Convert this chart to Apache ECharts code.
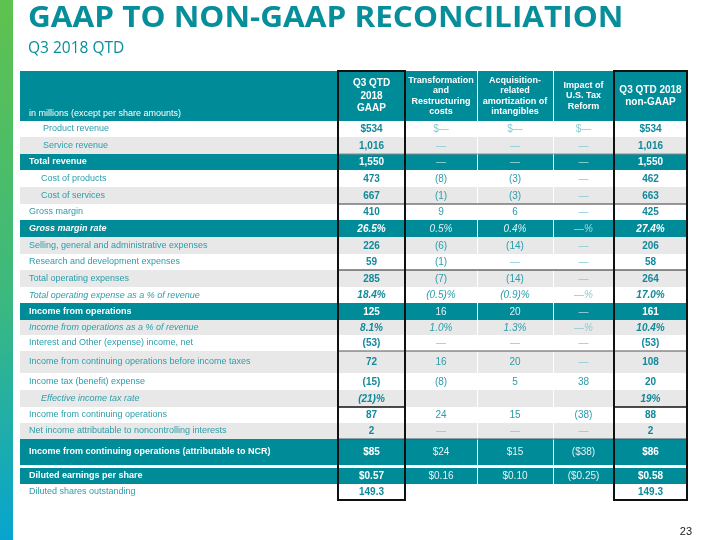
<!DOCTYPE html>
<html>
<head>
<meta charset="utf-8">
<script src="https://cdn.jsdelivr.net/npm/echarts@6/dist/echarts.min.js"></script>
<style>html,body{margin:0;padding:0;background:#fff}#chart{width:720px;height:540px}</style>
</head>
<body>
<div id="chart"></div>
<script>
// ---------------- data ----------------
const titleText = 'GAAP TO NON-GAAP RECONCILIATION';
const subtitleText = 'Q3 2018 QTD';
const pageNumber = '23';
const columnHeaders = [
  'in millions (except per share amounts)',
  'Q3 QTD\n2018\nGAAP',
  'Transformation\nand\nRestructuring\ncosts',
  'Acquisition-\nrelated\namortization of\nintangibles',
  'Impact of\nU.S. Tax\nReform',
  'Q3 QTD 2018\nnon-GAAP'
];
const rowLabels = [
  'Product revenue',
  'Service revenue',
  'Total revenue',
  'Cost of products',
  'Cost of services',
  'Gross margin',
  'Gross margin rate',
  'Selling, general and administrative expenses',
  'Research and development expenses',
  'Total operating expenses',
  'Total operating expense as a % of revenue',
  'Income from operations',
  'Income from operations as a % of revenue',
  'Interest and Other (expense) income, net',
  'Income from continuing operations before income taxes',
  'Income tax (benefit) expense',
  'Effective income tax rate',
  'Income from continuing operations',
  'Net income attributable to noncontrolling interests',
  'Income from continuing operations (attributable to NCR)',
  'Diluted earnings per share',
  'Diluted shares outstanding'
];
const gaapValues = ['$534','1,016','1,550','473','667','410','26.5%','226','59','285','18.4%','125','8.1%','(53)','72','(15)','(21)%','87','2','$85','$0.57','149.3'];
const transformationValues = ['$\u2014','\u2014','\u2014','(8)','(1)','9','0.5%','(6)','(1)','(7)','(0.5)%','16','1.0%','\u2014','16','(8)','','24','\u2014','$24','$0.16',''];
const acquisitionValues = ['$\u2014','\u2014','\u2014','(3)','(3)','6','0.4%','(14)','\u2014','(14)','(0.9)%','20','1.3%','\u2014','20','5','','15','\u2014','$15','$0.10',''];
const taxReformValues = ['$\u2014','\u2014','\u2014','\u2014','\u2014','\u2014','\u2014%','\u2014','\u2014','\u2014','\u2014%','\u2014','\u2014%','\u2014','\u2014','38','','(38)','\u2014','($38)','($0.25)',''];
const nonGaapValues = ['$534','1,016','1,550','462','663','425','27.4%','206','58','264','17.0%','161','10.4%','(53)','108','20','19%','88','2','$86','$0.58','149.3'];
const valueColumns = [gaapValues, transformationValues, acquisitionValues, taxReformValues, nonGaapValues];

// ---------------- layout / style ----------------
const colWidths = [318, 67, 72, 76, 61, 73];
const headerHeight = 50;
const rowHeights = [16,17,16,17,17,16,17,17,16,17,16,17,15,16,22,17,17,16,16,26,16,16];
const rowGapBefore = {20: 3};
const rowFill = ['w','g','t','w','g','w','t','g','w','g','w','t','g','w','g','w','g','w','g','t','t','w'];
const rowItalic = [0,0,0,0,0,0,1,0,0,0,1,0,1,0,0,0,1,0,0,0,0,0];
const rowIndent = [23,23,9,21,21,9,9,9,9,9,9,9,9,9,9,9,21,9,9,9,9,9];
const FILL = {w: '#ffffff', g: '#e8e8e8', t: '#008b99'};
const C_TEAL_BOLD = '#12899a';
const C_TEAL = '#2a9dab';
const C_DASH = '#86cbd3';
const C_LABEL = '#2a9eab';
const FONT = '"Liberation Sans", Arial, sans-serif';

const colX = [0];
colWidths.forEach(w => colX.push(colX[colX.length - 1] + w));
const totalW = colX[colX.length - 1];
const rowY = []; // top of each data row
let yy = headerHeight;
rowHeights.forEach((h, i) => { if (rowGapBefore[i]) yy += rowGapBefore[i]; rowY.push(yy); yy += h; });
const totalH = yy;

// horizontal rules at the top of given rows across value columns
const rules = [
  [2, '#8a8a8a', 1, [1,2,3,4,5]],
  [5, '#777777', 1.5, [1,2,3,4,5]],
  [9, '#222222', 1, [1,2,3,4,5]],
  [14, '#555555', 1, [1,2,3,4,5]],
  [17, '#111111', 1.5, [1,5]],
  [19, '#2c5d63', 1, [1,2,3,4,5]]
];

// cells
const cells = [];
for (let c = 0; c < 6; c++) cells.push([c, -1]);
for (let r = 0; r < rowLabels.length; r++) for (let c = 0; c < 6; c++) cells.push([c, r]);

function cellText(c, r) {
  if (r < 0) return columnHeaders[c];
  if (c === 0) return rowLabels[r];
  return valueColumns[c - 1][r];
}

function renderCell(params, api) {
  const c = api.value(0), r = api.value(1);
  const x0 = colX[c], x1 = colX[c + 1];
  const y0 = r < 0 ? 0 : rowY[r];
  const y1 = r < 0 ? headerHeight : rowY[r] + rowHeights[r];
  const p0 = api.coord([x0, y0]);
  const p1 = api.coord([x1, y1]);
  const fillKey = r < 0 ? 't' : rowFill[r];
  const children = [{
    type: 'rect',
    shape: {x: p0[0], y: p0[1], width: p1[0] - p0[0], height: p1[1] - p0[1]},
    style: {fill: FILL[fillKey]}
  }];
  if ((c === 3 || c === 4) && fillKey !== 'w') {
    children.push({type: 'line', shape: {x1: p0[0] + 0.5, y1: p0[1], x2: p0[0] + 0.5, y2: p1[1]}, style: {stroke: '#ffffff', lineWidth: 1}});
  }
  const txt = cellText(c, r);
  const cy = (p0[1] + p1[1]) / 2;
  if (r < 0) {
    if (c === 0) {
      children.push({type: 'text', style: {text: txt, x: p0[0] + 9, y: p1[1] - 7, align: 'left', verticalAlign: 'middle', fill: '#ffffff', font: '9px ' + FONT}});
    } else {
      const big = (c === 1 || c === 5);
      children.push({type: 'text', style: {text: txt, x: (p0[0] + p1[0]) / 2, y: cy, align: 'center', verticalAlign: 'middle', fill: '#ffffff',
        font: 'bold ' + (big ? '10px ' : '9px ') + FONT, lineHeight: big ? (c === 1 ? 12.5 : 11.5) : 10.3}});
    }
    return {type: 'group', children: children};
  }
  const italic = rowItalic[r] ? 'italic ' : '';
  const teal = fillKey === 't';
  if (c === 0) {
    children.push({type: 'text', style: {text: txt, x: p0[0] + rowIndent[r], y: cy, align: 'left', verticalAlign: 'middle',
      fill: teal ? '#ffffff' : C_LABEL, font: italic + (teal ? 'bold ' : '') + '9px ' + FONT}});
  } else if (txt) {
    const strong = (c === 1 || c === 5);
    const isDash = txt.indexOf('\u2014') >= 0;
    let color;
    if (teal) color = strong ? '#ffffff' : (isDash ? '#a8dbe0' : '#e2f3f5');
    else color = strong ? C_TEAL_BOLD : (isDash ? C_DASH : C_TEAL);
    children.push({type: 'text', style: {text: txt, x: (p0[0] + p1[0]) / 2, y: cy + 0.5, align: 'center', verticalAlign: 'middle',
      fill: color, font: italic + (strong ? 'bold ' : '') + '10px ' + FONT}});
  }
  return {type: 'group', children: children};
}

function renderRule(params, api) {
  const idx = api.value(0);
  const rule = rules[idx];
  const y = rowY[rule[0]];
  const children = rule[3].map(c => {
    const a = api.coord([colX[c], y]);
    const b = api.coord([colX[c + 1], y]);
    return {type: 'line', shape: {x1: a[0], y1: a[1], x2: b[0], y2: b[1]}, style: {stroke: rule[1], lineWidth: rule[2]}};
  });
  return {type: 'group', children: children};
}

function renderBox(params, api) {
  const c = api.value(0);
  const a = api.coord([colX[c], 0]);
  const b = api.coord([colX[c + 1], totalH]);
  return {type: 'rect', shape: {x: a[0], y: a[1], width: b[0] - a[0], height: b[1] - a[1]},
    style: {fill: 'none', stroke: '#111111', lineWidth: 2}};
}

const chart = echarts.init(document.getElementById('chart'), null, {renderer: 'canvas'});
chart.setOption({
  animation: false,
  backgroundColor: '#ffffff',
  grid: {left: 20, top: 71, width: totalW, height: totalH},
  xAxis: {type: 'value', min: 0, max: totalW, show: false},
  yAxis: {type: 'value', min: 0, max: totalH, inverse: true, show: false},
  graphic: [
    {type: 'rect', left: 0, top: 0, shape: {width: 13, height: 540},
      style: {fill: new echarts.graphic.LinearGradient(0, 0, 0, 1, [
        {offset: 0, color: '#5fc24e'}, {offset: 0.55, color: '#3cb97e'}, {offset: 1, color: '#07a4cf'}])}},
    {type: 'text', x: 28, y: 19.5, scaleX: 1.125, style: {text: titleText, fill: '#078e9b', font: 'bold 28px "Open Sans", sans-serif', verticalAlign: 'middle'}},
    {type: 'text', x: 28, y: 49, style: {text: subtitleText, fill: '#078e9b', font: '15.5px "Open Sans", sans-serif', verticalAlign: 'middle'}},
    {type: 'text', x: 692, y: 532, style: {text: pageNumber, fill: '#222222', font: '11px ' + FONT, align: 'right', verticalAlign: 'middle'}}
  ],
  series: [
    {type: 'custom', coordinateSystem: 'cartesian2d', renderItem: renderCell, data: cells, z: 1, silent: true},
    {type: 'custom', coordinateSystem: 'cartesian2d', renderItem: renderRule, data: rules.map((r, i) => [i]), z: 2, silent: true},
    {type: 'custom', coordinateSystem: 'cartesian2d', renderItem: renderBox, data: [[1], [5]], z: 3, silent: true}
  ]
});
</script>
</body>
</html>
